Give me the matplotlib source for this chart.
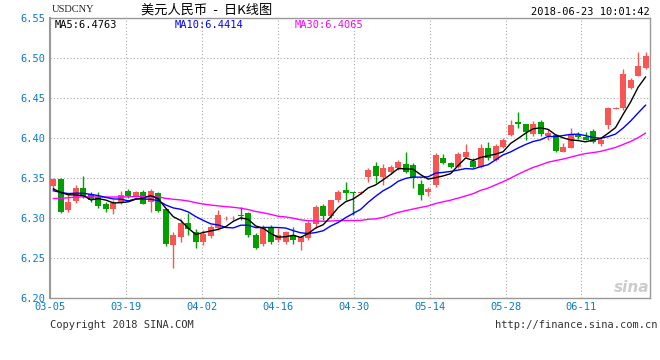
import numpy as np
import pandas as pd
import matplotlib
matplotlib.use("Agg")
import matplotlib.pyplot as plt

# daily candles, 2018-03-05 .. 2018-06-22 (USD/CNY)
opens = [6.340, 6.349, 6.310, 6.321, 6.338, 6.330, 6.326, 6.318, 6.311, 6.320,
         6.334, 6.328, 6.333, 6.320, 6.331, 6.311, 6.266, 6.276, 6.294, 6.282,
         6.270, 6.277, 6.287, 6.302, 6.302, 6.304, 6.306, 6.279, 6.267, 6.288,
         6.272, 6.270, 6.279, 6.270, 6.275, 6.293, 6.315, 6.302, 6.322, 6.335,
         6.332, 6.331, 6.351, 6.365, 6.351, 6.357, 6.362, 6.368, 6.366, 6.343,
         6.332, 6.341, 6.375, 6.369, 6.364, 6.376, 6.371, 6.364, 6.387, 6.373,
         6.389, 6.404, 6.420, 6.417, 6.405, 6.420, 6.402, 6.404, 6.383, 6.388,
         6.404, 6.401, 6.409, 6.392, 6.416, 6.436, 6.437, 6.462, 6.478, 6.487]
highs = [6.350, 6.350, 6.330, 6.341, 6.352, 6.332, 6.332, 6.320, 6.322, 6.334,
         6.336, 6.334, 6.335, 6.336, 6.332, 6.312, 6.283, 6.299, 6.306, 6.286,
         6.285, 6.291, 6.310, 6.303, 6.303, 6.314, 6.307, 6.281, 6.291, 6.291,
         6.287, 6.284, 6.289, 6.278, 6.296, 6.316, 6.318, 6.323, 6.335, 6.345,
         6.332, 6.334, 6.362, 6.370, 6.368, 6.366, 6.372, 6.383, 6.369, 6.348,
         6.339, 6.381, 6.380, 6.370, 6.382, 6.393, 6.375, 6.393, 6.395, 6.392,
         6.400, 6.422, 6.433, 6.418, 6.421, 6.422, 6.411, 6.405, 6.394, 6.412,
         6.407, 6.408, 6.411, 6.401, 6.439, 6.439, 6.486, 6.475, 6.507, 6.508]
lows = [6.335, 6.306, 6.307, 6.319, 6.325, 6.320, 6.313, 6.308, 6.305, 6.318,
        6.325, 6.326, 6.317, 6.308, 6.308, 6.265, 6.238, 6.270, 6.279, 6.262,
        6.266, 6.275, 6.285, 6.298, 6.298, 6.297, 6.276, 6.261, 6.265, 6.267,
        6.270, 6.268, 6.268, 6.260, 6.273, 6.288, 6.298, 6.300, 6.320, 6.322,
        6.304, 6.330, 6.345, 6.344, 6.341, 6.355, 6.360, 6.356, 6.337, 6.323,
        6.327, 6.339, 6.367, 6.362, 6.362, 6.375, 6.362, 6.362, 6.373, 6.371,
        6.387, 6.402, 6.413, 6.398, 6.402, 6.402, 6.398, 6.383, 6.382, 6.387,
        6.399, 6.398, 6.394, 6.390, 6.411, 6.436, 6.435, 6.461, 6.477, 6.486]
closes = [6.349, 6.307, 6.320, 6.337, 6.327, 6.322, 6.315, 6.311, 6.319, 6.329,
          6.327, 6.332, 6.318, 6.334, 6.309, 6.268, 6.279, 6.294, 6.286, 6.270,
          6.280, 6.289, 6.304, 6.303, 6.303, 6.302, 6.279, 6.263, 6.289, 6.270,
          6.279, 6.282, 6.272, 6.276, 6.294, 6.314, 6.302, 6.322, 6.333, 6.331,
          6.331, 6.333, 6.360, 6.352, 6.363, 6.364, 6.370, 6.358, 6.350, 6.329,
          6.336, 6.379, 6.369, 6.364, 6.380, 6.383, 6.364, 6.387, 6.375, 6.390,
          6.398, 6.416, 6.418, 6.408, 6.417, 6.405, 6.406, 6.384, 6.389, 6.404,
          6.401, 6.398, 6.395, 6.398, 6.437, 6.437, 6.480, 6.472, 6.490, 6.502]
# closes before 03-05, only used to warm up the moving averages
prior_closes = [6.301, 6.296, 6.310, 6.318, 6.325, 6.318, 6.312, 6.321, 6.328, 6.322,
                6.316, 6.324, 6.330, 6.327, 6.320, 6.314, 6.319, 6.326, 6.333, 6.330,
                6.327, 6.335, 6.331, 6.329, 6.336, 6.330, 6.334, 6.338, 6.331]

date_labels = ["03-05", "03-19", "04-02", "04-16", "04-30", "05-14", "05-28", "06-11"]
label_idx = [0, 10, 20, 30, 40, 50, 60, 70]
y_ticks = [6.20, 6.25, 6.30, 6.35, 6.40, 6.45, 6.50, 6.55]
ma_texts = ["MA5:6.4763", "MA10:6.4414", "MA30:6.4065"]

RED = "#fa5555"
GREEN = "#00a000"
BLUE_TXT = "#0a7acc"

W, H = 660, 360
fig = plt.figure(figsize=(W / 100, H / 100), dpi=100)
ax = fig.add_axes([50 / W, 62 / H, 600 / W, 280 / H])

n = len(closes)
x = np.arange(n)
o = np.array(opens); c = np.array(closes)
hi = np.array(highs); lo = np.array(lows)
up = c >= o
cols = np.where(up, RED, GREEN)

# moving averages
allc = pd.Series(prior_closes + closes)
ma5 = allc.rolling(5).mean().values[-n:]
ma10 = allc.rolling(10).mean().values[-n:]
ma30 = allc.rolling(30).mean().values[-n:]

ax.vlines(x, lo, hi, colors=cols, linewidth=1.0, zorder=2)
body = np.maximum(np.abs(c - o), 0.0009)
ax.bar(x, body, bottom=np.minimum(o, c), width=0.8, color=cols, linewidth=0, zorder=3)

ax.plot(x, ma30, color="#ff00ff", lw=1.0, zorder=4)
ax.plot(x, ma10, color="#0000ff", lw=1.0, zorder=4)
ax.plot(x, ma5, color="black", lw=1.0, zorder=4)

ax.set_xlim(-0.4, n - 0.4)
ax.set_ylim(6.20, 6.55)

# grid
tick_pos = [i * 1.013 - 0.45 for i in label_idx]
ax.set_xticks(tick_pos)
ax.set_xticklabels(date_labels)
ax.set_yticks(y_ticks)
ax.set_yticklabels(["%.2f" % v for v in y_ticks])
ax.tick_params(length=0, labelsize=7.5, labelcolor=BLUE_TXT, pad=3)
for lab in ax.get_xticklabels() + ax.get_yticklabels():
    lab.set_family("DejaVu Sans Mono")
ax.grid(True, color="#aaaaaa", linestyle=(0, (1, 2)), linewidth=0.8, zorder=0)
for s in ax.spines.values():
    s.set_color("#999999")
    s.set_linewidth(1.0)
ax.spines["left"].set_linewidth(1.5)

# MA legend text inside the plot
ma_cols = ["black", "#0000ff", "#ff00ff"]
ma_x = [55, 175, 295]
for t, xc, col in zip(ma_texts, ma_x, ma_cols):
    fig.text(xc / W, 1 - 25 / H, t, color=col, fontsize=7.5,
             family="DejaVu Sans Mono", va="center", ha="left")

# header
fig.text(52 / W, 1 - 10 / H, "USDCNY", fontsize=7.5, family="Liberation Serif",
         va="center", ha="left", color="#222222")
fig.text(207 / W, 1 - 10 / H, "美元人民币  -  日K线图", fontsize=9.5,
         family=["Noto Sans CJK SC", "DejaVu Sans"], va="center", ha="center")
fig.text(650 / W, 1 - 12 / H, "2018-06-23 10:01:42", fontsize=7.5,
         family="DejaVu Sans Mono", va="center", ha="right")

# footer
fig.text(50 / W, 1 - 325 / H, "Copyright 2018 SINA.COM", fontsize=7.5,
         family="DejaVu Sans Mono", va="center", ha="left", color="#333333")
fig.text(657 / W, 1 - 325 / H, "http://finance.sina.com.cn", fontsize=7.5,
         family="DejaVu Sans Mono", va="center", ha="right", color="#333333")

# watermark
fig.text(632 / W, 1 - 288 / H, "sina", fontsize=11, style="italic", weight="bold",
         color="#cccccc", va="center", ha="center", zorder=1)

fig.savefig("out.png", dpi=100)
